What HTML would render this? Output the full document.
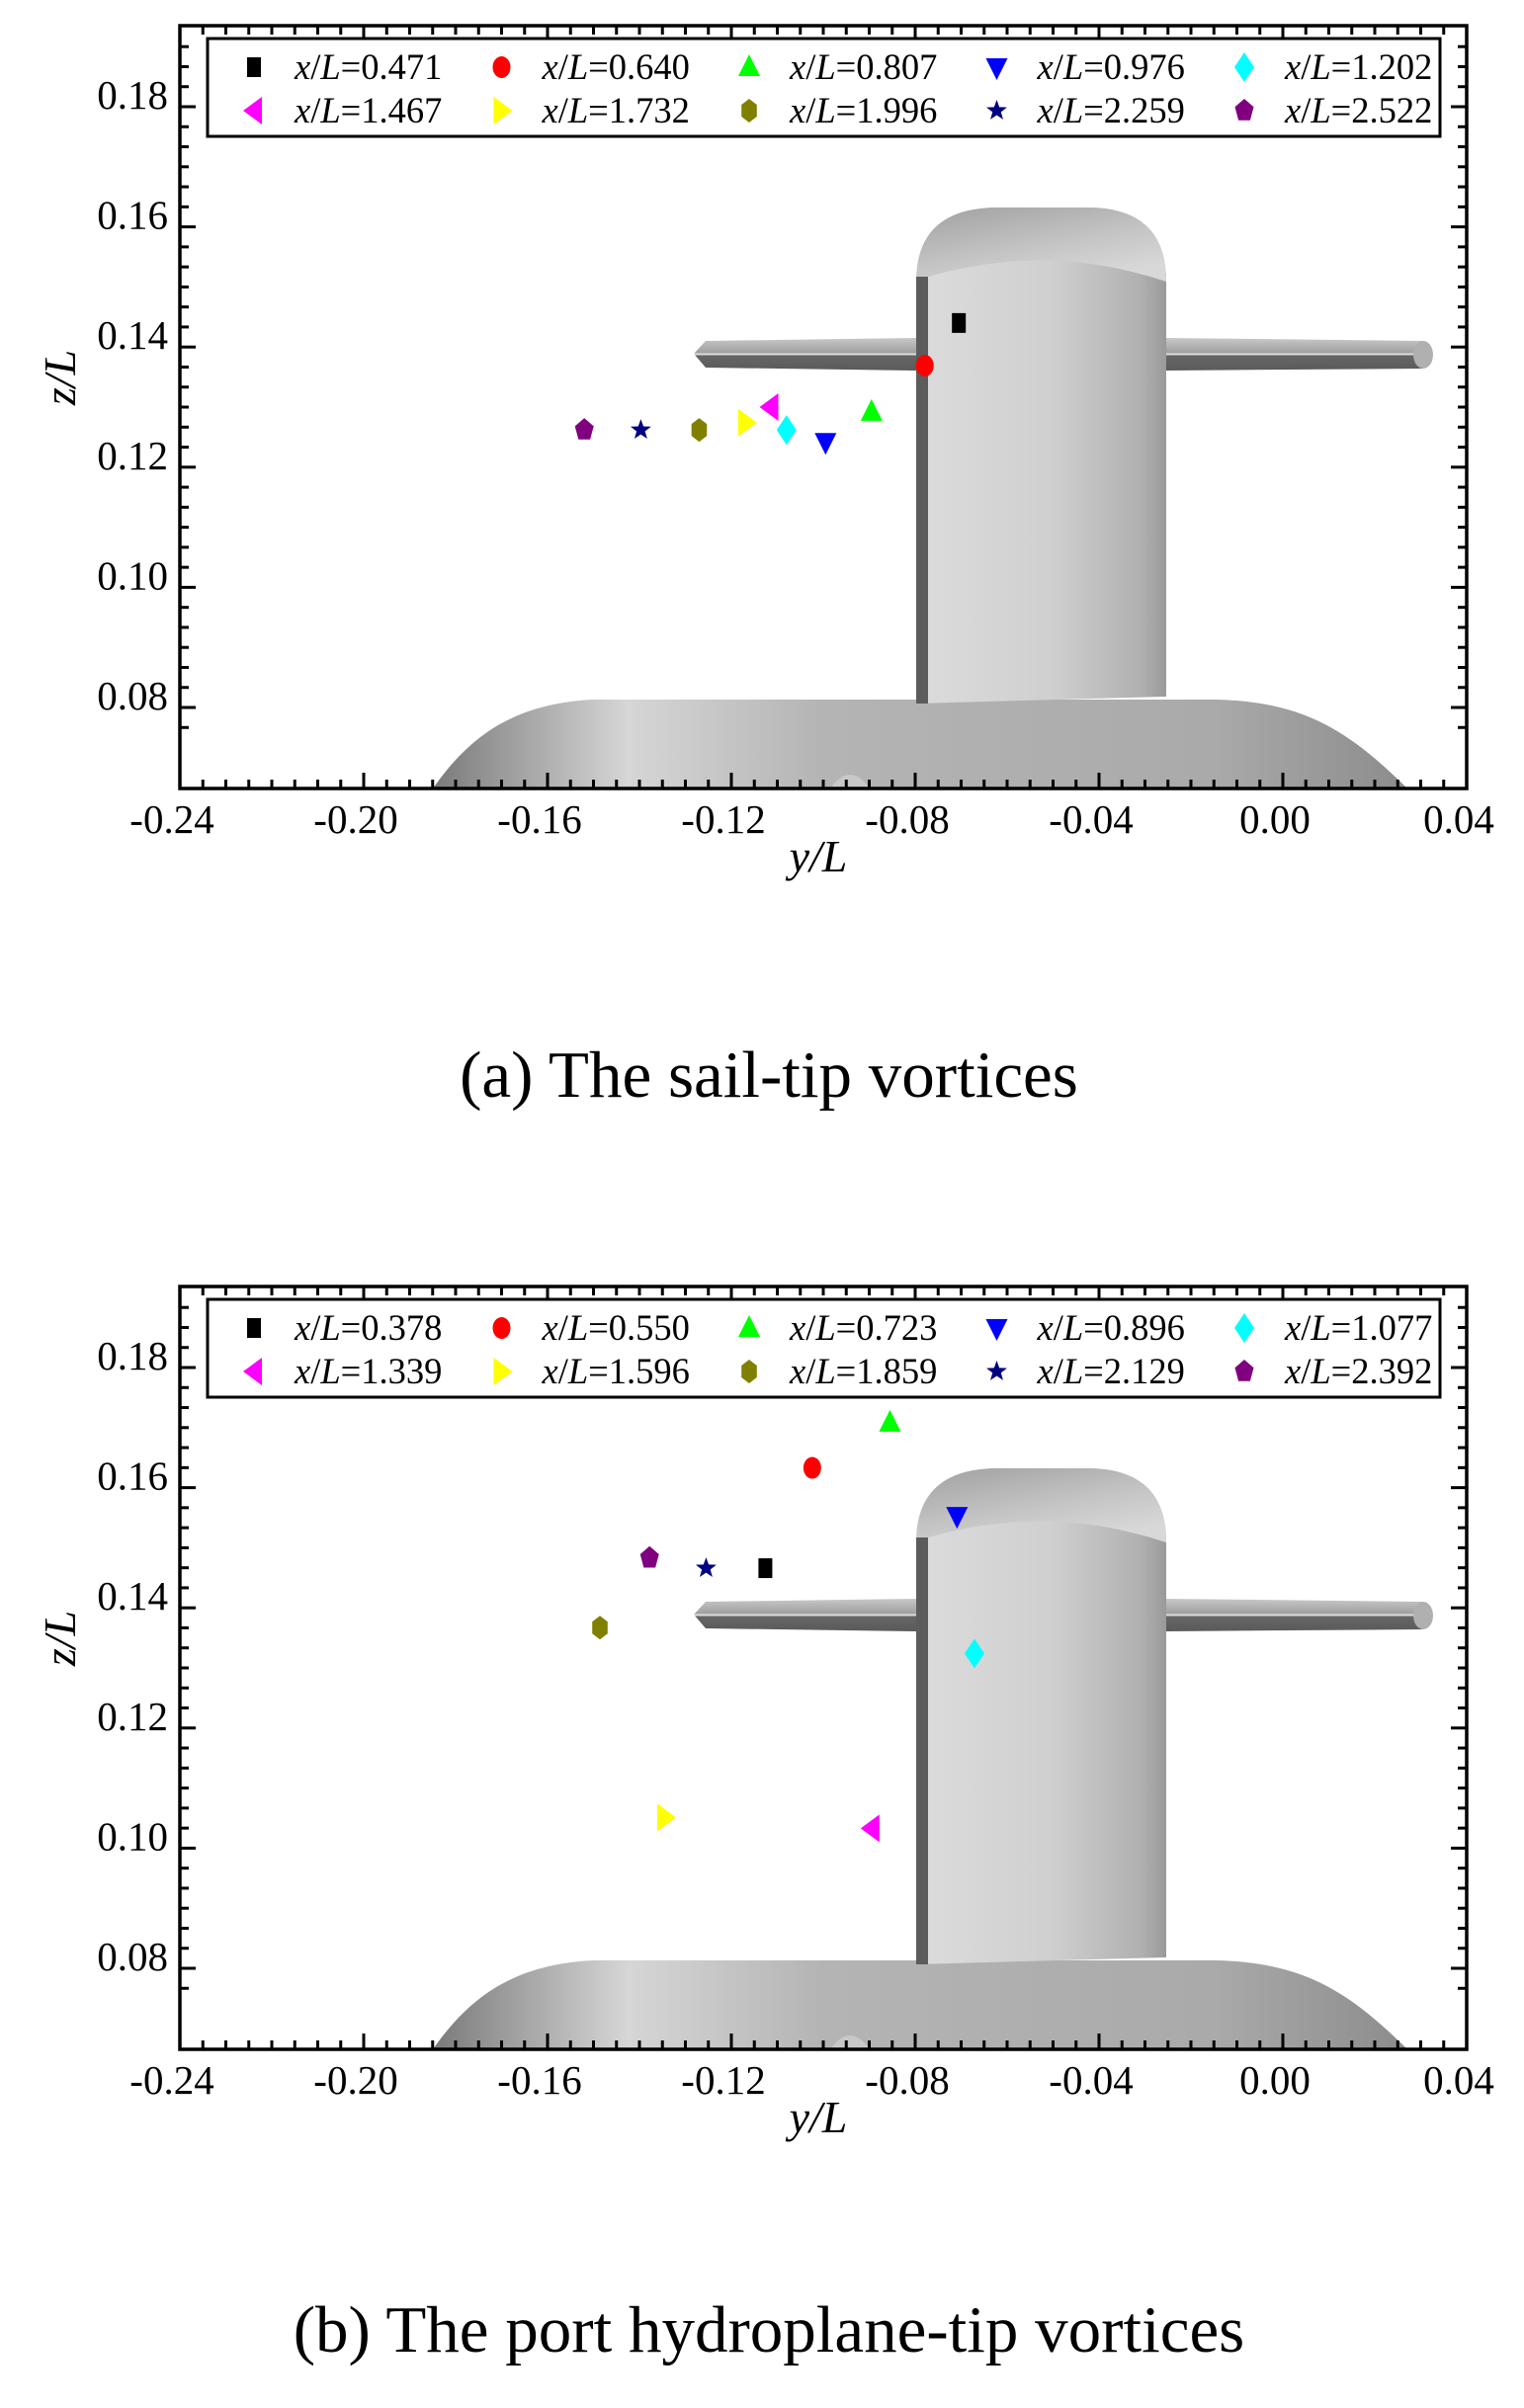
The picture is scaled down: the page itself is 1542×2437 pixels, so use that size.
<!DOCTYPE html>
<html><head><meta charset="utf-8">
<style>
html,body{margin:0;padding:0;background:#fff;}
svg{display:block;}
text{font-family:"Liberation Serif",serif;fill:#000;}
</style></head>
<body>
<svg id="fig" width="1542" height="2437" viewBox="0 0 1542 2437" xmlns="http://www.w3.org/2000/svg">
<defs>
<linearGradient id="sailG" x1="0" x2="1" y1="0" y2="0">
<stop offset="0" stop-color="#dcdcdc"/><stop offset="0.55" stop-color="#cfcfcf"/><stop offset="0.9" stop-color="#b0b0b0"/><stop offset="1" stop-color="#9a9a9a"/></linearGradient>
<linearGradient id="capG" x1="0" x2="0.6" y1="0" y2="1">
<stop offset="0" stop-color="#a0a0a0"/><stop offset="0.6" stop-color="#c4c4c4"/><stop offset="1" stop-color="#d8d8d8"/></linearGradient>
<linearGradient id="hullG" x1="0" x2="1" y1="0" y2="0">
<stop offset="0" stop-color="#7a7a7a"/><stop offset="0.2" stop-color="#d6d6d6"/><stop offset="0.4" stop-color="#b4b4b4"/><stop offset="0.8" stop-color="#aaaaaa"/><stop offset="1" stop-color="#8c8c8c"/></linearGradient>
<linearGradient id="planeG" x1="0" x2="0" y1="0" y2="1">
<stop offset="0" stop-color="#c8c8c8"/><stop offset="0.45" stop-color="#a0a0a0"/><stop offset="0.5" stop-color="#eeeeee"/><stop offset="0.55" stop-color="#666"/><stop offset="1" stop-color="#5a5a5a"/></linearGradient>
</defs>
<g id="root"></g>
</svg>
<script>
// ---- data ----
const xTicks = [-0.24,-0.20,-0.16,-0.12,-0.08,-0.04,0.00,0.04];
const xTickLabels = ["-0.24","-0.20","-0.16","-0.12","-0.08","-0.04","0.00","0.04"];
const zTicks = [0.08,0.10,0.12,0.14,0.16,0.18];
const zTickLabels = ["0.08","0.10","0.12","0.14","0.16","0.18"];
const seriesColors = ["#000000","#ff0000","#00ff00","#0000ff","#00ffff","#ff00ff","#ffff00","#808000","#000080","#800080"];
const seriesShapes = ["square","circle","tri-up","tri-down","diamond","tri-left","tri-right","hexagon","star","pentagon"];
const labelsA = ["x/L=0.471","x/L=0.640","x/L=0.807","x/L=0.976","x/L=1.202","x/L=1.467","x/L=1.732","x/L=1.996","x/L=2.259","x/L=2.522"];
const yA = [-0.0705,-0.0779,-0.0895,-0.0995,-0.1080,-0.1115,-0.1168,-0.1270,-0.1397,-0.1520];
const zA = [0.1440,0.1369,0.1292,0.1242,0.1262,0.1300,0.1274,0.1262,0.1262,0.1262];
const labelsB = ["x/L=0.378","x/L=0.550","x/L=0.723","x/L=0.896","x/L=1.077","x/L=1.339","x/L=1.596","x/L=1.859","x/L=2.129","x/L=2.392"];
const yB = [-0.1126,-0.1024,-0.0855,-0.0709,-0.0671,-0.0895,-0.1344,-0.1486,-0.1255,-0.1378];
const zB = [0.1466,0.1633,0.1708,0.1553,0.1324,0.1033,0.1051,0.1367,0.1466,0.1483];

const NS="http://www.w3.org/2000/svg";
const root=document.getElementById('root');
function mk(tag,attrs,parent){const e=document.createElementNS(NS,tag);for(const k in attrs)e.setAttribute(k,attrs[k]);(parent||root).appendChild(e);return e;}

const X0=182,X1=1484,XMIN=-0.24,XMAX=0.04;
function sx(v){return X0+(v-XMIN)/(XMAX-XMIN)*(X1-X0);}
function szf(off){return v=>off+716-(v-0.08)/0.02*121.6;}

function marker(g,shape,cx,cy,color){
  let el;
  if(shape==="square") el=mk('rect',{x:cx-7,y:cy-10,width:14,height:20,fill:color},g);
  else if(shape==="circle") el=mk('ellipse',{cx:cx,cy:cy,rx:9,ry:11,fill:color},g);
  else {
    let pts=[];
    if(shape==="tri-up") pts=[[0,-13],[11,9],[-11,9]];
    else if(shape==="tri-down") pts=[[-11,-9],[11,-9],[0,13]];
    else if(shape==="tri-left") pts=[[-11,0],[8,-14],[8,14]];
    else if(shape==="tri-right") pts=[[11,0],[-8,-14],[-8,14]];
    else if(shape==="diamond") pts=[[0,-15],[10,0],[0,15],[-10,0]];
    else if(shape==="hexagon"){for(let i=0;i<6;i++){const a=Math.PI/6+i*Math.PI/3;pts.push([9*Math.cos(a),12*Math.sin(a)]);}}
    else if(shape==="pentagon"){for(let i=0;i<5;i++){const a=-Math.PI/2+i*2*Math.PI/5;pts.push([10*Math.cos(a),12*Math.sin(a)]);}}
    else if(shape==="star"){for(let i=0;i<10;i++){const a=-Math.PI/2+i*Math.PI/5;const rr=i%2?4.5:11;pts.push([rr*Math.cos(a),rr*Math.sin(a)]);}}
    el=mk('polygon',{points:pts.map(p=>(cx+p[0])+','+(cy+p[1])).join(' '),fill:color},g);
  }
  return el;
}

function submarine(g,off){
  const h=mk('path',{d:`M438 ${798+off} C475 ${745+off},520 ${712+off},600 ${708+off} L1230 ${708+off} C1320 ${710+off},1365 ${740+off},1424 ${798+off} Z`,fill:'url(#hullG)'},g);
  
  
  mk('path',{d:`M840 ${798+off} Q860 ${770+off} 880 ${798+off} Z`,fill:'#c8c8c8'},g);
  const s=mk('path',{d:`M927 ${712+off} L927 ${285+off} Q927 ${210+off} 1010 ${210+off} L1100 ${210+off} Q1180 ${210+off} 1180 ${285+off} L1180 ${705+off} Z`,fill:'url(#sailG)'},g);
  
  
  mk('path',{d:`M927 ${285+off} Q927 ${210+off} 1010 ${210+off} L1100 ${210+off} Q1180 ${210+off} 1180 ${285+off} Q1060 ${245+off} 939 ${280+off} Z`,fill:'url(#capG)'},g);
  mk('rect',{x:927,y:280+off,width:12,height:432,fill:'#5c5c5c'},g);
  const p1=mk('path',{d:`M702 ${358+off} L714 ${345+off} L927 ${342+off} L927 ${375+off} L714 ${372+off} Z`,fill:'url(#planeG)'},g);
  
  
  const p2=mk('path',{d:`M1180 ${342+off} L1440 ${345+off} L1440 ${373+off} L1180 ${375+off} Z`,fill:'url(#planeG)'},g);
  
  
  mk('ellipse',{cx:1440,cy:359+off,rx:10,ry:14,fill:'#b0b0b0'},g);
}

function panel(off,labels,ys,zs,caption,capY,name){
  const g=mk('g',{});
  
  
  const sz=szf(off);
  const top=26+off,bot=798+off;
  const clip=mk('clipPath',{id:'clip'+name},g);
  mk('rect',{x:X0,y:top,width:X1-X0,height:bot-top},clip);
  const sg=mk('g',{'clip-path':`url(#clip${name})`},g);
  
  
  submarine(sg,off);
  const tg=mk('g',{stroke:'#000','stroke-width':3},g);
  
  
  for(let k=0;k<=56;k++){
    const v=-0.24+k*0.005;
    const x=sx(v);const major=k%8===0;const L=major?16:9;
    mk('line',{x1:x,y1:bot,x2:x,y2:bot-L},tg);mk('line',{x1:x,y1:top,x2:x,y2:top+L},tg);
  }
  for(let k=-1;k<=40;k++){
    const v=0.08+k*0.02/6;const y=sz(v);if(y<top+1||y>bot-1)continue;const major=k%6===0;const L=major?16:9;
    mk('line',{x1:X0,y1:y,x2:X0+L,y2:y},tg);mk('line',{x1:X1,y1:y,x2:X1-L,y2:y},tg);
  }
  const fr=mk('rect',{x:X0,y:top,width:X1-X0,height:bot-top,fill:'none',stroke:'#000','stroke-width':3.5},g);
  
  
  xTicks.forEach((v,i)=>{
    const t=mk('text',{x:sx(v)-8,y:843+off,'text-anchor':'middle','font-size':41},g);
    t.textContent=xTickLabels[i];
    
    
  });
  zTicks.forEach((v,i)=>{
    const t=mk('text',{x:170,y:sz(v)+2,'text-anchor':'end','font-size':41},g);
    t.textContent=zTickLabels[i];
    
    
  });
  const xt=mk('text',{x:828,y:882+off,'text-anchor':'middle','font-size':46,'font-style':'italic'},g);
  xt.textContent='y/L';
  
  
  const yt=mk('text',{x:0,y:0,'text-anchor':'middle','font-size':46,'font-style':'italic',transform:`translate(76 ${382+off}) rotate(-90)`},g);
  yt.textContent='z/L';
  
  
  ys.forEach((v,i)=>{
    const m=marker(g,seriesShapes[i],sx(v),sz(zs[i]),seriesColors[i]);
    
    
  });
  const lg=mk('g',{},g);
  
  
  mk('rect',{x:210,y:39+off,width:1247,height:99,fill:'#fff',stroke:'#000','stroke-width':3},lg);
  labels.forEach((lab,i)=>{
    const col=i%5,row=Math.floor(i/5);
    const mx=257+col*250.5,my=(row?112:68)+off;
    const m=marker(lg,seriesShapes[i],mx,my,seriesColors[i]);
    
    
    const t=mk('text',{x:298+col*250.5,y:(row?124:80)+off,'font-size':36.5},lg);
    t.innerHTML='<tspan font-style="italic">x</tspan>/<tspan font-style="italic">L</tspan>'+lab.slice(3);
    
    
  });
  const c=mk('text',{x:778,y:capY,'text-anchor':'middle','font-size':67},root);
  c.textContent=caption;
  
  
}
panel(0,labelsA,yA,zA,'(a) The sail-tip vortices',1110,'panel-a');
panel(1276,labelsB,yB,zB,'(b) The port hydroplane-tip vortices',2380,'panel-b');
</script>
</body></html>
